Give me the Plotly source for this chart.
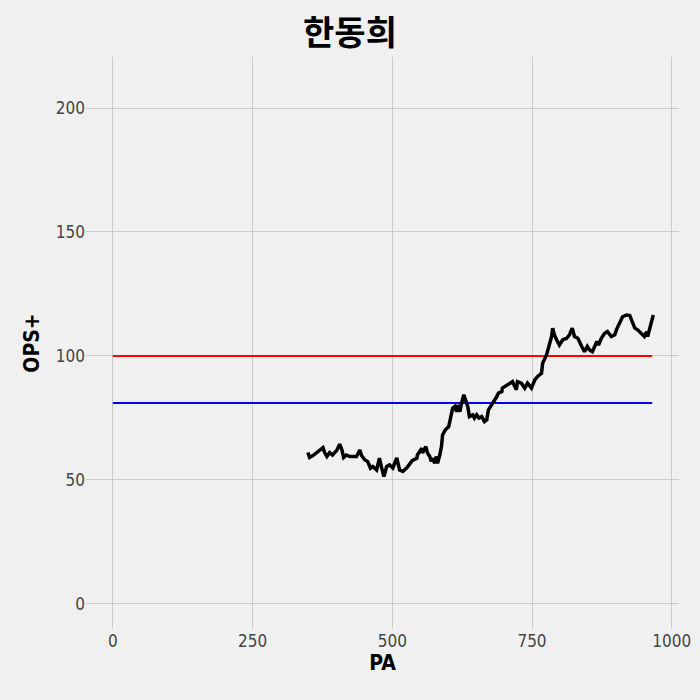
import plotly.graph_objects as go

# OPS+ trajectory, by plate appearance
pa = [349, 352, 358, 365, 370, 376, 379, 383, 388, 393, 401, 406, 410, 413, 418,
      424, 429, 436, 442, 445, 451, 456, 461, 465, 472, 477, 481, 485, 490, 495,
      501, 508, 513, 519, 526, 531, 536, 544, 545, 553, 554, 560, 563, 567, 570,
      572, 576, 579, 581, 585, 588, 590, 595, 601, 604, 608, 612, 615, 617, 621,
      624, 628, 633, 635, 638, 644, 647, 651, 655, 660, 665, 669, 672, 678, 681,
      687, 690, 696, 697, 705, 710, 715, 722, 724, 731, 737, 742, 749, 755, 760,
      767, 769, 776, 780, 785, 787, 790, 794, 799, 805, 812, 817, 822, 826, 832,
      839, 844, 849, 853, 858, 866, 869, 874, 880, 885, 892, 898, 901, 907, 912,
      919, 925, 928, 934, 939, 946, 951, 955, 957, 960, 964, 967]
ops_plus = [61, 59, 59.8, 61, 61.7, 63, 61, 59.4, 61, 60, 62, 64.4, 62, 59, 60,
            59.4, 59.4, 59.4, 62, 59.8, 58, 57.4, 54.7, 55.4, 54, 58.7, 54.8, 51.3, 55.4, 56,
            54.8, 58.8, 54, 53.4, 54.8, 56.5, 57.8, 58.7, 60, 62.8, 60.8, 63.4, 60.8, 59.4, 57.4,
            58.7, 56.7, 59.4, 56.7, 60, 63.4, 68.1, 70.2, 71.5, 74.9, 78.9, 79.6, 77.5, 80.2, 77.5,
            80.9, 84.3, 80.9, 79.6, 75.5, 76.2, 74.9, 76.2, 74.9, 75.5, 73.5, 74.2, 78.2, 80.2, 81.6,
            83.6, 85, 85.6, 87, 88.3, 89, 89.6, 86.3, 89.6, 89, 87, 89, 87, 90.3, 91.7,
            93, 97, 100.4, 103.8, 107.8, 111.2, 108.5, 106.5, 104.4, 106.5, 107.1, 108.5, 111.2, 107.8, 107.1,
            103.8, 101.7, 103.8, 102.4, 101.7, 105.8, 104.4, 107.1, 109.1, 109.8, 107.8, 108.5, 110.5, 113.8, 115.8,
            116.5, 116.3, 114.5, 111.2, 110.5, 109.1, 107.8, 109.8, 107.8, 110.5, 114.5, 116.5]

# reference lines
ref_x = [0, 965]
league_avg = 100
blue_level = 81

x_ticks = [0, 250, 500, 750, 1000]
y_ticks = [0, 50, 100, 150, 200]

fig = go.Figure()
fig.add_trace(go.Scatter(x=ref_x, y=[league_avg, league_avg], mode="lines",
                         line=dict(color="red", width=2), showlegend=False))
fig.add_trace(go.Scatter(x=ref_x, y=[blue_level, blue_level], mode="lines",
                         line=dict(color="blue", width=2), showlegend=False))
fig.add_trace(go.Scatter(x=pa, y=ops_plus, mode="lines",
                         line=dict(color="black", width=3.5), showlegend=False))

font_main = "DejaVu Sans Condensed, Noto Sans CJK KR, sans-serif"

fig.update_layout(
    width=700, height=700,
    paper_bgcolor="#f0f0f0", plot_bgcolor="#f0f0f0",
    margin=dict(l=86, r=21, t=57, b=71),
    font=dict(family=font_main, color="#444444", size=17),
    title=dict(text="<b>한동희</b>", x=0.5, xanchor="center", y=0.953, yanchor="middle",
               font=dict(family="Noto Sans CJK KR, sans-serif", size=34, color="black")),
)
fig.update_xaxes(range=[-48, 1013], tickvals=x_ticks, showgrid=True, gridcolor="#cbcbcb",
                 gridwidth=1, zeroline=False, showline=False, ticks="", automargin=False,
                 title=dict(text="<b>PA</b>", font=dict(size=21, color="black"), standoff=4))
fig.update_yaxes(range=[-10.2, 220.6], tickvals=y_ticks, showgrid=True, gridcolor="#cbcbcb",
                 gridwidth=1, zeroline=False, showline=False, ticks="", automargin=False,
                 title=dict(text="<b>OPS+</b>", font=dict(size=21, color="black"), standoff=10))

fig.write_html("out.html", config={"displayModeBar": False},
               post_script="document.body.style.margin='0';document.body.style.background='#f0f0f0';")
